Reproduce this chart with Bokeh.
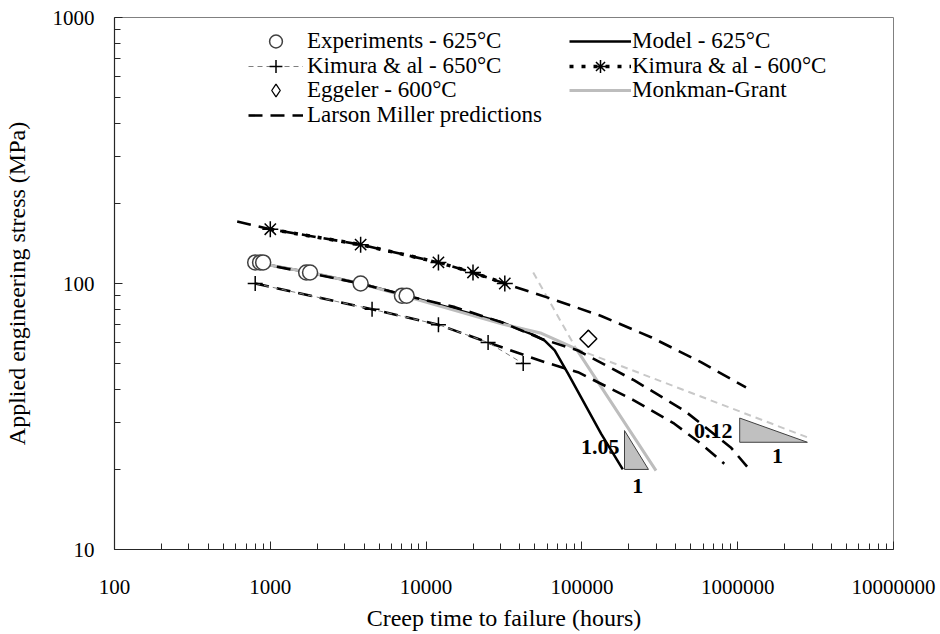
from bokeh.plotting import figure
from bokeh.models import Range1d, FixedTicker, Legend, LegendItem, BasicTickFormatter
from bokeh.embed import file_html
from bokeh.resources import INLINE
from bokeh.core.properties import value
import math

FONT = "Liberation Serif"

# ---------------- data ----------------
x_ticks = [100, 1000, 10000, 100000, 1000000, 10000000]
x_tick_labels = ["100", "1000", "10000", "100000", "1000000", "10000000"]
y_ticks = [10, 100, 1000]
y_tick_labels = ["10", "100", "1000"]

# Experiments - 625°C
exp_x = [800, 860, 900, 1700, 1800, 3800, 7000, 7500]
exp_y = [120, 120, 120, 110, 110, 100, 90, 90]

# Kimura & al - 650°C
k650_x = [800, 4500, 12000, 25000, 42000]
k650_y = [100, 80, 70, 60, 50]

# Kimura & al - 600°C
k600_x = [1000, 3800, 12000, 20000, 32000]
k600_y = [160, 140, 120, 110, 100]

# Eggeler - 600°C
egg_x = [110000]
egg_y = [62]

# Model - 625°C
model_x = [800, 1800, 3800, 8000, 30500, 49800, 57700, 66900, 81500, 133000, 183000]
model_y = [120, 110, 100, 89, 71.5, 63.8, 61, 56, 45.8, 27.2, 20]

# Monkman-Grant (solid parts)
mg_x = [800, 1800, 3800, 8000, 30500, 55000, 92000, 299000]
mg_y = [120, 110, 100, 88.3, 70.5, 65, 56.8, 19.8]
# Monkman-Grant dashed extensions
mg_steep_x = [48700, 92000]
mg_steep_y = [110, 56.8]
mg_flat_x = [92000, 2800000]
mg_flat_y = [56.8, 26.4]

# Larson Miller predictions
lm600_x = [613, 1000, 3800, 12000, 20000, 32000, 63700, 133000, 278000, 581000, 1130000]
lm600_y = [171, 160, 140, 120, 110, 100, 87.6, 75.5, 62.8, 50.6, 40.7]
lm625_x = [800, 1700, 3800, 7500, 15300, 30500, 55000, 94400, 217000, 454000, 903000, 1156000]
lm625_y = [120, 110, 100, 90, 81.5, 71.5, 62, 56, 43.2, 33.3, 24.2, 20.4]
lm650_x = [800, 4500, 12000, 25000, 57700, 94400, 217000, 392000, 581000, 820000]
lm650_y = [100, 80, 70, 60, 50.6, 46.4, 36.3, 29.7, 25.0, 21.0]

# slope triangles
tri_xs = [[187700, 187700, 267500], [1030000, 1030000, 2800000]]
tri_ys = [[28, 20, 20], [31.2, 25.3, 25.3]]
slope_lbl_x = [174000, 927000]
slope_lbl_y = [24.2, 28.0]
slope_lbl = ["1.05", "0.12"]
run_lbl_x = [228600, 1800000]
run_lbl_y = [17.4, 22.4]
run_lbl = ["1", "1"]

# ---------------- figure ----------------
p = figure(width=940, height=634, x_axis_type="log", y_axis_type="log",
           x_range=Range1d(100, 1e7), y_range=Range1d(10, 1000),
           output_backend="svg", toolbar_location=None,
           min_border_left=112, min_border_right=47,
           min_border_top=17, min_border_bottom=85)
p.xgrid.visible = False
p.ygrid.visible = False
p.outline_line_color = "#808080"
p.outline_line_width = 1
p.background_fill_color = "white"
p.border_fill_color = "white"

x_minor = [m * t for t in x_ticks[:-1] for m in range(2, 10)]
y_minor = [m * t for t in y_ticks[:-1] for m in range(2, 10)]
p.xaxis.ticker = FixedTicker(ticks=x_ticks, minor_ticks=x_minor)
p.yaxis.ticker = FixedTicker(ticks=y_ticks, minor_ticks=y_minor)
p.xaxis.formatter = BasicTickFormatter(use_scientific=False)
p.yaxis.formatter = BasicTickFormatter(use_scientific=False)
p.xaxis.major_label_overrides = dict(zip(x_ticks, x_tick_labels))
p.yaxis.major_label_overrides = dict(zip(y_ticks, y_tick_labels))

for ax in (p.xaxis[0], p.yaxis[0]):
    ax.axis_line_color = "#262626"
    ax.axis_line_width = 1.2
    ax.major_tick_line_color = "#262626"
    ax.minor_tick_line_color = "#262626"
    ax.major_tick_in = 8
    ax.major_tick_out = 0
    ax.minor_tick_in = 6
    ax.minor_tick_out = 0
    ax.major_label_text_font = FONT
    ax.major_label_text_font_size = "21px"
    ax.major_label_text_color = "black"
    ax.axis_label_text_font = FONT
    ax.axis_label_text_font_size = "24px"
    ax.axis_label_text_font_style = "normal"
    ax.axis_label_text_color = "black"

p.xaxis.axis_label = "Creep time to failure (hours)"
p.yaxis.axis_label = "Applied engineering stress (MPa)"
p.xaxis.major_label_standoff = 30
p.xaxis.axis_label_standoff = 8
p.yaxis.major_label_standoff = 20
p.yaxis.axis_label_standoff = 20

# Model (drawn first: the Monkman-Grant line covers it where they coincide)
r_model = p.line(model_x, model_y, line_color="black", line_width=2.5)

# Monkman-Grant
r_mg = p.line(mg_x, mg_y, line_color="#bdbdbd", line_width=3)
p.line(mg_steep_x, mg_steep_y, line_color="#c8c8c8", line_width=2, line_dash="7 5")
p.line(mg_flat_x, mg_flat_y, line_color="#c8c8c8", line_width=2, line_dash="7 5")

# Larson Miller predictions
LMC = dict(line_color="black", line_width=2.6, line_dash="14 8")
r_lm = p.line(lm600_x, lm600_y, **LMC)
p.line(lm625_x, lm625_y, **LMC)
p.line(lm650_x, lm650_y, **LMC)

# Kimura lines
r_k650l = p.line(k650_x, k650_y, line_color="#7f7f7f", line_width=1, line_dash="5 4")
r_k600l = p.line(k600_x, k600_y, line_color="black", line_width=3.5, line_dash="4 8")

# triangles
p.patches(tri_xs, tri_ys, fill_color="#c0c0c0", line_color="#404040", line_width=1)

# markers
r_k650p = p.scatter(k650_x, k650_y, marker="cross", size=15, line_color="black", line_width=1.5)
r_k600p = p.scatter(k600_x, k600_y, marker="asterisk", size=16, line_color="black", line_width=1.5)
r_exp = p.scatter(exp_x, exp_y, marker="circle", size=15, fill_color="white",
                  line_color="#404040", line_width=1.5)
# diamond (used for the legend glyph) hidden under the rotated square
r_egg_leg = p.scatter(egg_x, egg_y, marker="diamond", size=17, fill_color="white",
                      line_color="black", line_width=1.3)
r_egg = p.scatter(egg_x, egg_y, marker="square", size=12, angle=math.pi / 4,
                  fill_color="white", line_color="black", line_width=1.5)

# slope labels
p.text(slope_lbl_x, slope_lbl_y, text=slope_lbl, text_font=value(FONT),
       text_font_size="22px", text_font_style="bold", text_align="right",
       text_baseline="middle", text_color="black")
p.text(run_lbl_x, run_lbl_y, text=run_lbl, text_font=value(FONT),
       text_font_size="22px", text_font_style="bold", text_align="center",
       text_baseline="middle", text_color="black")

# legend: one single-row legend per entry (two columns)
LEG = dict(border_line_alpha=0, background_fill_alpha=0, padding=0, margin=0,
           spacing=0, glyph_height=32, label_height=20, label_text_font=FONT,
           label_text_font_size="23px", label_text_color="black")

col1 = [("Experiments - 625°C", [r_exp]),
        ("Kimura & al - 650°C", [r_k650l, r_k650p]),
        ("Eggeler - 600°C", [r_egg_leg]),
        ("Larson Miller predictions", [r_lm])]
col2 = [("Model - 625°C", [r_model]),
        ("Kimura & al - 600°C", [r_k600l, r_k600p]),
        ("Monkman-Grant", [r_mg])]
row_bottoms = [492, 467.5, 443, 418.5]

for i, (lbl, rs) in enumerate(col1):
    p.add_layout(Legend(items=[LegendItem(label=lbl, renderers=rs)],
                        location=(134, row_bottoms[i]), glyph_width=55,
                        label_standoff=4, **LEG), "center")
for i, (lbl, rs) in enumerate(col2):
    p.add_layout(Legend(items=[LegendItem(label=lbl, renderers=rs)],
                        location=(455, row_bottoms[i]), glyph_width=62,
                        label_standoff=1, **LEG), "center")

open("out.html", "w").write(file_html(p, INLINE))
